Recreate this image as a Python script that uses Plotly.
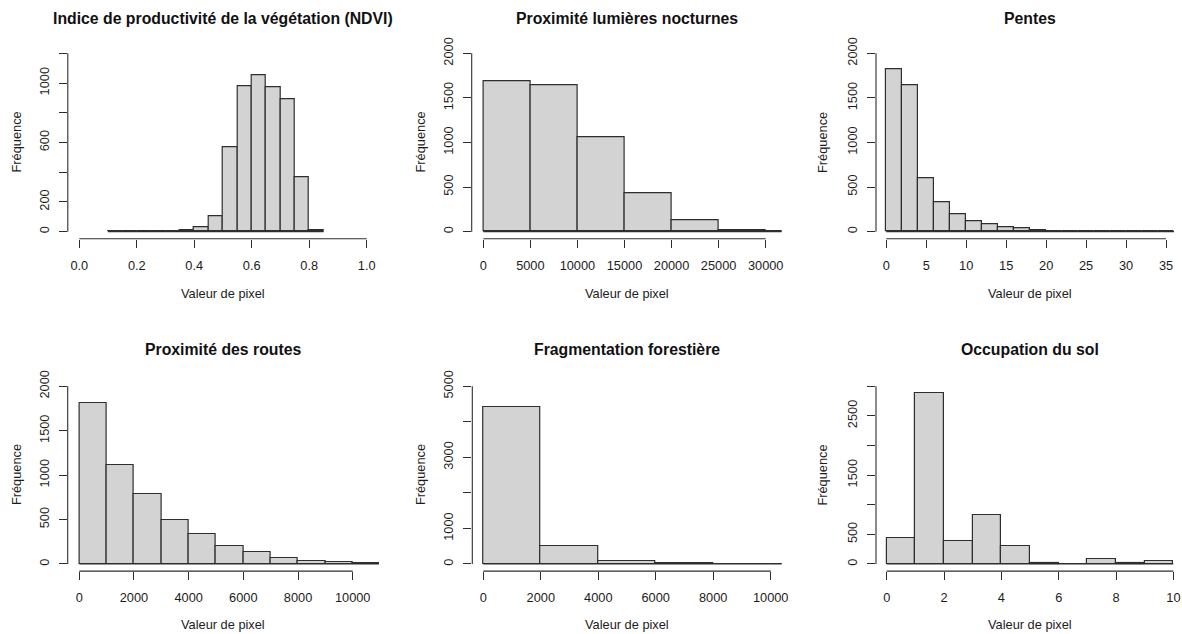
import numpy as np
import plotly.graph_objects as go

# ---------------------------------------------------------------------------
# Histogram data (bin edges and counts) for each raster layer
# ---------------------------------------------------------------------------
ndvi_breaks = [0.10, 0.15, 0.20, 0.25, 0.30, 0.35, 0.40, 0.45, 0.50, 0.55,
               0.60, 0.65, 0.70, 0.75, 0.80, 0.85]
ndvi_counts = [1, 0, 0, 1, 6, 8, 27, 101, 568, 982, 1054, 973, 890, 365, 10]

lum_breaks = [0, 5000, 10000, 15000, 20000, 25000, 30000, 35000]
lum_counts = [1690, 1645, 1062, 430, 131, 15, 0]

pente_breaks = list(range(0, 38, 2))
pente_counts = [1824, 1645, 598, 336, 191, 120, 82, 52, 38, 14, 1, 10,
                0, 0, 0, 0, 0, 1]

route_breaks = list(range(0, 12000, 1000))
route_counts = [1813, 1114, 781, 497, 333, 198, 131, 64, 38, 22, 10]

frag_breaks = [0, 2000, 4000, 6000, 8000, 10000, 12000]
frag_counts = [4409, 490, 85, 22, 0, 1]

sol_breaks = list(range(0, 11))
sol_counts = [437, 2877, 381, 819, 295, 15, 0, 75, 20, 55]

# Axis ticks and labels (blank labels are ticks whose text is dropped)
ndvi_xticks = [0.0, 0.2, 0.4, 0.6, 0.8, 1.0]
ndvi_xlabels = ["0.0", "0.2", "0.4", "0.6", "0.8", "1.0"]
ndvi_yticks = [0, 200, 400, 600, 800, 1000, 1200]
ndvi_ylabels = ["0", "200", "", "600", "", "1000", ""]

lum_xticks = [0, 5000, 10000, 15000, 20000, 25000, 30000]
lum_xlabels = ["0", "5000", "10000", "15000", "20000", "25000", "30000"]
lum_yticks = [0, 500, 1000, 1500, 2000]
lum_ylabels = ["0", "500", "1000", "1500", "2000"]

pente_xticks = [0, 5, 10, 15, 20, 25, 30, 35]
pente_xlabels = ["0", "5", "10", "15", "20", "25", "30", "35"]
pente_yticks = [0, 500, 1000, 1500, 2000]
pente_ylabels = ["0", "500", "1000", "1500", "2000"]

route_xticks = [0, 2000, 4000, 6000, 8000, 10000]
route_xlabels = ["0", "2000", "4000", "6000", "8000", "10000"]
route_yticks = [0, 500, 1000, 1500, 2000]
route_ylabels = ["0", "500", "1000", "1500", "2000"]

frag_xticks = [0, 2000, 4000, 6000, 8000, 10000]
frag_xlabels = ["0", "2000", "4000", "6000", "8000", "10000"]
frag_yticks = [0, 1000, 2000, 3000, 4000, 5000]
frag_ylabels = ["0", "1000", "", "3000", "", "5000"]

sol_xticks = [0, 2, 4, 6, 8, 10]
sol_xlabels = ["0", "2", "4", "6", "8", "10"]
sol_yticks = [0, 500, 1000, 1500, 2000, 2500, 3000]
sol_ylabels = ["0", "500", "", "1500", "", "2500", ""]

titles = [
    "Indice de productivité de la végétation (NDVI)",
    "Proximité lumières nocturnes",
    "Pentes",
    "Proximité des routes",
    "Fragmentation forestière",
    "Occupation du sol",
]
x_title = "Valeur de pixel"
y_title = "Fréquence"

# ---------------------------------------------------------------------------
# Page geometry (pixels) for the 2 x 3 panel grid
# ---------------------------------------------------------------------------
W, H = 1182, 634
FONT = "Liberation Sans, Arial, Helvetica, sans-serif"
INK = "#1c1c1c"
LINE = "#2e2e2e"
FILL = "#D3D3D3"

panels = [
    dict(breaks=ndvi_breaks, counts=ndvi_counts, xt=ndvi_xticks, xl=ndvi_xlabels,
         yt=ndvi_yticks, yl=ndvi_ylabels, xpx=(67.8, 378.2), xr=(-0.04, 1.04), row=0, col=0),
    dict(breaks=lum_breaks, counts=lum_counts, xt=lum_xticks, xl=lum_xlabels,
         yt=lum_yticks, yl=lum_ylabels, xpx=(471.7, 781.7), xr=(-1232, 31700), row=0, col=1),
    dict(breaks=pente_breaks, counts=pente_counts, xt=pente_xticks, xl=pente_xlabels,
         yt=pente_yticks, yl=pente_ylabels, xpx=(876.0, 1182.0), xr=(-1.289, 37.0), row=0, col=2),
    dict(breaks=route_breaks, counts=route_counts, xt=route_xticks, xl=route_xlabels,
         yt=route_yticks, yl=route_ylabels, xpx=(67.7, 379.0), xr=(-424, 10962), row=1, col=0),
    dict(breaks=frag_breaks, counts=frag_counts, xt=frag_xticks, xl=frag_xlabels,
         yt=frag_yticks, yl=frag_ylabels, xpx=(472.3, 781.7), xr=(-383, 10383), row=1, col=1),
    dict(breaks=sol_breaks, counts=sol_counts, xt=sol_xticks, xl=sol_xlabels,
         yt=sol_yticks, yl=sol_ylabels, xpx=(876.0, 1182.0), xr=(-0.373, 10.30), row=1, col=2),
]

row_ypx = [(46.2, 238.8), (379.1, 571.1)]
col_center = [223.0, 626.7, 1030.0]
col_ytitle_x = [16.0, 420.0, 822.5]
row_title_y = [18.3, 349.5]
row_xtitle_y = [293.3, 624.3]

fig = go.Figure()
shapes = []
annotations = []
layout_axes = {}

for i, p in enumerate(panels, start=1):
    xa = "x" if i == 1 else f"x{i}"
    ya = "y" if i == 1 else f"y{i}"
    b = np.asarray(p["breaks"], dtype=float)
    c = np.asarray(p["counts"], dtype=float)
    centers = (b[:-1] + b[1:]) / 2
    widths = np.diff(b)

    # empty bins still show their outline along the baseline
    fig.add_trace(go.Scatter(
        x=[b[0], b[-1]], y=[0, 0], mode="lines",
        line=dict(color=LINE, width=1.1), xaxis=xa, yaxis=ya,
        hoverinfo="skip", showlegend=False))
    fig.add_trace(go.Bar(
        x=centers, y=c, width=widths, xaxis=xa, yaxis=ya,
        marker=dict(color=FILL, line=dict(color=LINE, width=1.2)),
        showlegend=False, hoverinfo="x+y"))

    ytop = p["yt"][-1]
    y0px, y1px = row_ypx[p["row"]]
    common = dict(showgrid=False, zeroline=False, showline=False,
                  ticks="outside", ticklen=8, tickwidth=1.1, tickcolor=LINE,
                  tickfont=dict(family=FONT, size=12.8, color=INK),
                  automargin=False, fixedrange=True)
    layout_axes["xaxis" if i == 1 else f"xaxis{i}"] = dict(
        domain=[p["xpx"][0] / W, p["xpx"][1] / W],
        range=list(p["xr"]), anchor=ya,
        tickmode="array", tickvals=p["xt"], ticktext=p["xl"],
        ticklabelstandoff=7, **common)
    layout_axes["yaxis" if i == 1 else f"yaxis{i}"] = dict(
        domain=[1 - y1px / H, 1 - y0px / H],
        range=[-0.04 * ytop, 1.04 * ytop], anchor=xa,
        tickmode="array", tickvals=p["yt"], ticktext=p["yl"],
        tickangle=-90, ticklabelstandoff=5, **common)

    # axis lines spanning first to last tick
    shapes.append(dict(type="line", xref=xa, yref=f"{ya} domain",
                       x0=p["xt"][0], x1=p["xt"][-1], y0=0, y1=0,
                       line=dict(color=LINE, width=1.1)))
    shapes.append(dict(type="line", xref=f"{xa} domain", yref=ya,
                       x0=0, x1=0, y0=p["yt"][0], y1=ytop,
                       line=dict(color=LINE, width=1.1)))

    r, cidx = p["row"], p["col"]
    annotations.append(dict(
        text=f"<b>{titles[i - 1]}</b>", x=col_center[cidx] / W, y=1 - row_title_y[r] / H,
        xref="paper", yref="paper", xanchor="center", yanchor="middle",
        showarrow=False, font=dict(family=FONT, size=15.8, color="#111111")))
    annotations.append(dict(
        text=x_title, x=col_center[cidx] / W, y=1 - row_xtitle_y[r] / H,
        xref="paper", yref="paper", xanchor="center", yanchor="middle",
        showarrow=False, font=dict(family=FONT, size=12.8, color=INK)))
    annotations.append(dict(
        text=y_title, x=col_ytitle_x[cidx] / W, y=1 - (y0px + y1px) / 2 / H,
        xref="paper", yref="paper", xanchor="center", yanchor="middle",
        textangle=-90, showarrow=False, font=dict(family=FONT, size=12.8, color=INK)))

fig.update_layout(
    width=W, height=H, autosize=False,
    margin=dict(l=0, r=0, t=0, b=0, pad=0, autoexpand=False),
    paper_bgcolor="white", plot_bgcolor="white",
    shapes=shapes, annotations=annotations,
    showlegend=False, bargap=0,
    **layout_axes,
)

fig.write_html("out.html", config={"displayModeBar": False})
